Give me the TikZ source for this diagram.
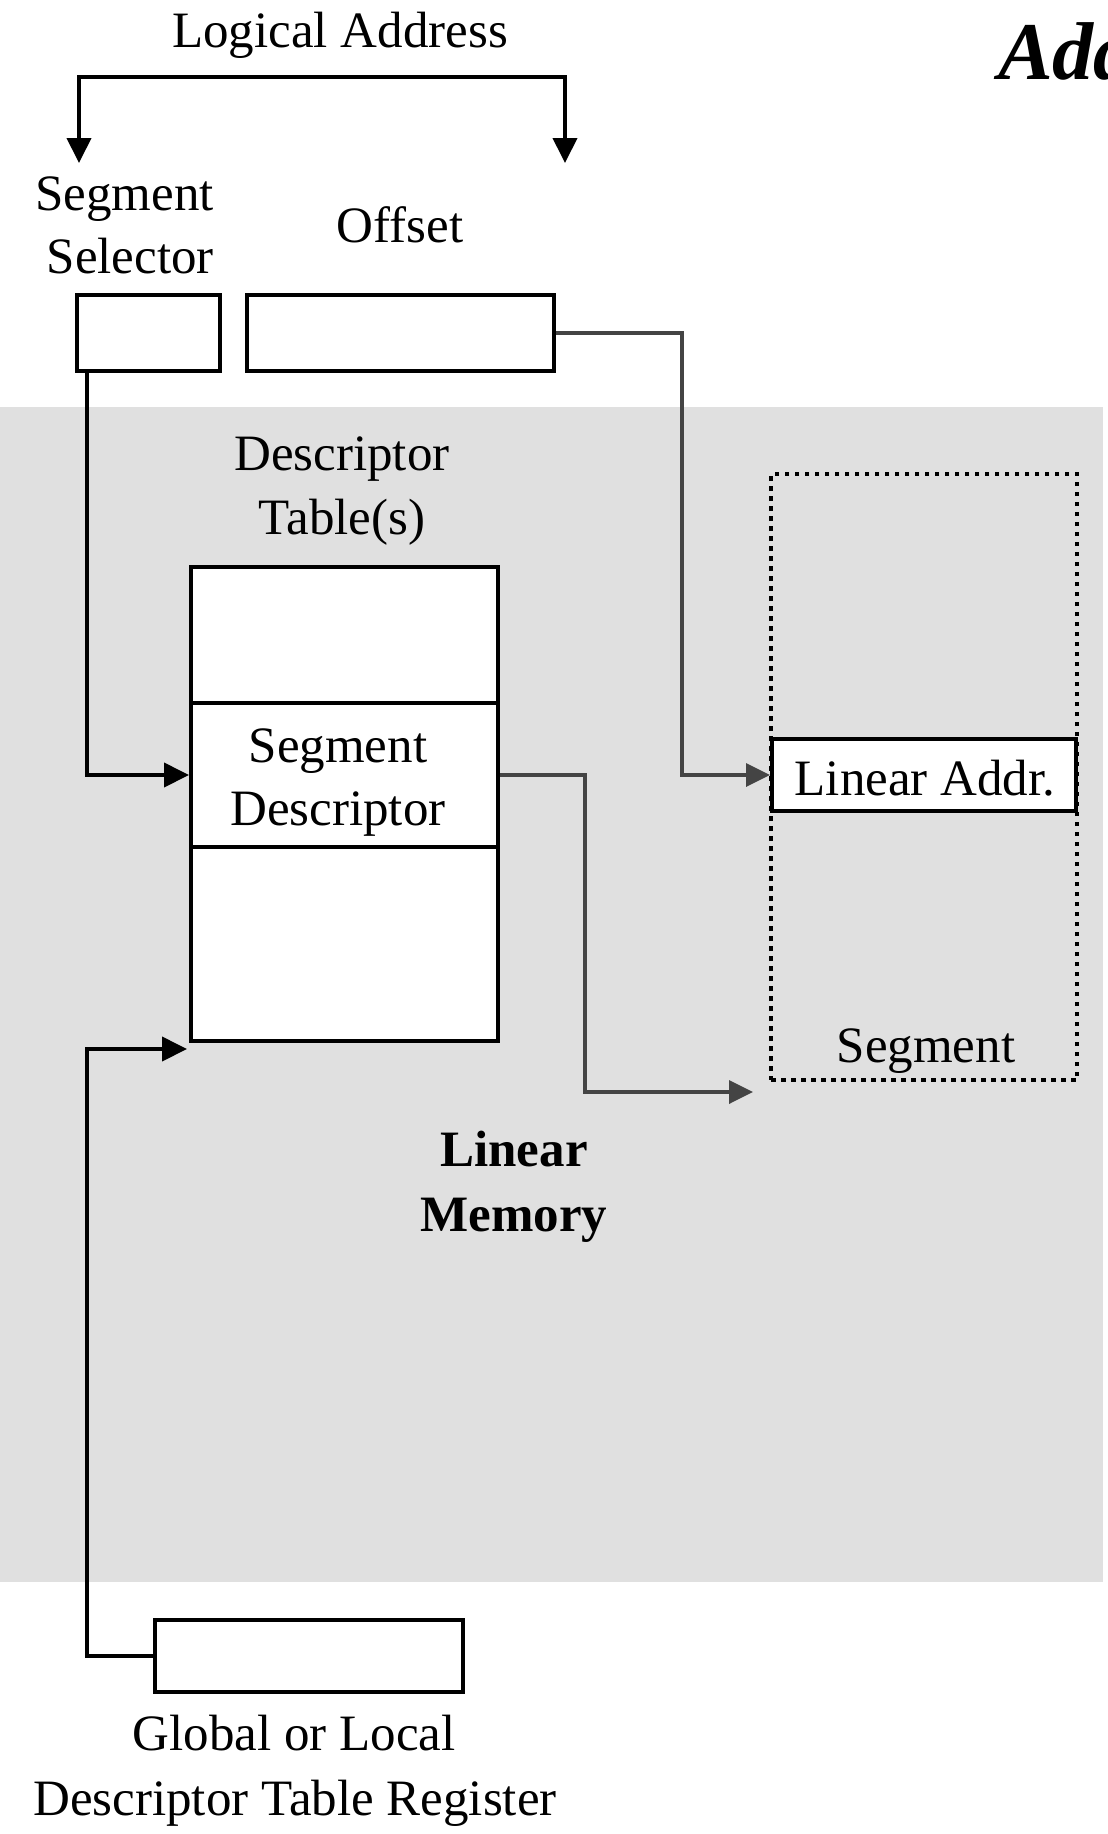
\documentclass[tikz,border=0pt]{standalone}
\usepackage{fontspec}
\setmainfont{Liberation Serif}
\usetikzlibrary{arrows.meta}
\definecolor{bggray}{HTML}{E0E0E0}
\definecolor{conngray}{HTML}{444444}
\begin{document}
\begin{tikzpicture}[x=1pt,y=-1pt,
  lbl/.style={font=\fontsize{51}{63}\selectfont, inner sep=0, anchor=base},
  boldlbl/.style={font=\fontsize{51}{63}\selectfont\bfseries, inner sep=0, anchor=base},
  box/.style={draw=black, line width=4pt, fill=white, inner sep=0},
  bconn/.style={draw=black, line width=4pt},
  gconn/.style={draw=conngray, line width=3.5pt},
  Tb/.tip={Triangle[length=25pt,width=24pt]},
  Tg/.tip={Triangle[length=24pt,width=23pt, color=conngray]}]
\useasboundingbox (0,0) rectangle (1108,1834);
\fill[bggray] (0,407) rectangle (1103,1582);

% title (cut off)
\node[font=\fontsize{82}{90}\selectfont\bfseries\itshape, anchor=base west, inner sep=0] (title) at (998,79) {Add};

% logical address
\node[lbl] (logaddr) at (340,47) {Logical Address};
\node[lbl, anchor=base east] (segsel1) at (214,210) {Segment};
\node[lbl, anchor=base east] (segsel2) at (214,273) {Selector};
\node[lbl] (offlbl) at (400,242) {Offset};
\node[box, minimum width=143pt, minimum height=76pt] (sel) at (148.5,333) {};
\node[box, minimum width=307pt, minimum height=76pt] (off) at (400.5,333) {};

% descriptor table
\node[lbl] (dtl1) at (342,470) {Descriptor};
\node[lbl] (dtl2) at (342,534) {Table(s)};
\node[box, minimum width=307pt, minimum height=474pt] (dt) at (344.5,804) {};
\node[box, minimum width=307pt, minimum height=144pt] (dtseg) at (344.5,775) {};
\node[lbl] (sd1) at (338,762) {Segment};
\node[lbl] (sd2) at (338,825) {Descriptor};

% segment in linear memory
\node[draw=black, line width=4pt, dash pattern=on 4.5pt off 5.5pt, inner sep=0,
      minimum width=306pt, minimum height=606pt] (segbox) at (924,777) {};
\node[box, minimum width=304pt, minimum height=72pt] (lin) at (924,775) {};
\node[lbl] (linl) at (925,795) {Linear Addr.};
\node[lbl] (seglbl) at (926,1062) {Segment};

\node[boldlbl] (lm1) at (514,1166) {Linear};
\node[boldlbl] (lm2) at (514,1231) {Memory};

% GDTR / LDTR
\node[box, minimum width=308pt, minimum height=72pt] (gdtr) at (309,1656) {};
\node[lbl] (gl1) at (294,1750) {Global or Local};
\node[lbl] (gl2) at (295,1815) {Descriptor Table Register};

% connectors
\coordinate (brL) at (79,163);
\coordinate (brTL) at (79,77);
\coordinate (brTR) at (565,77);
\coordinate (brR) at (565,163);
\draw[bconn, Tb-Tb] (brL) -- (brTL) -- (brTR) -- (brR);

\coordinate (oc) at (682,775);
\draw[gconn, -Tg] (off.east) -| (oc) -- (lin.west);

\coordinate (s1) at (87,371);
\draw[bconn, -Tb] (s1) |- (dtseg.west);

\coordinate (g0) at (87,1049);
\coordinate (gt) at (187,1049);
\draw[bconn, -Tb] (gdtr.west) -| (g0) -- (gt);

\coordinate (d1) at (585,1092);
\coordinate (d2) at (753,1092);
\draw[gconn, -Tg] (dtseg.east) -| (d1) -- (d2);
\end{tikzpicture}
\end{document}
